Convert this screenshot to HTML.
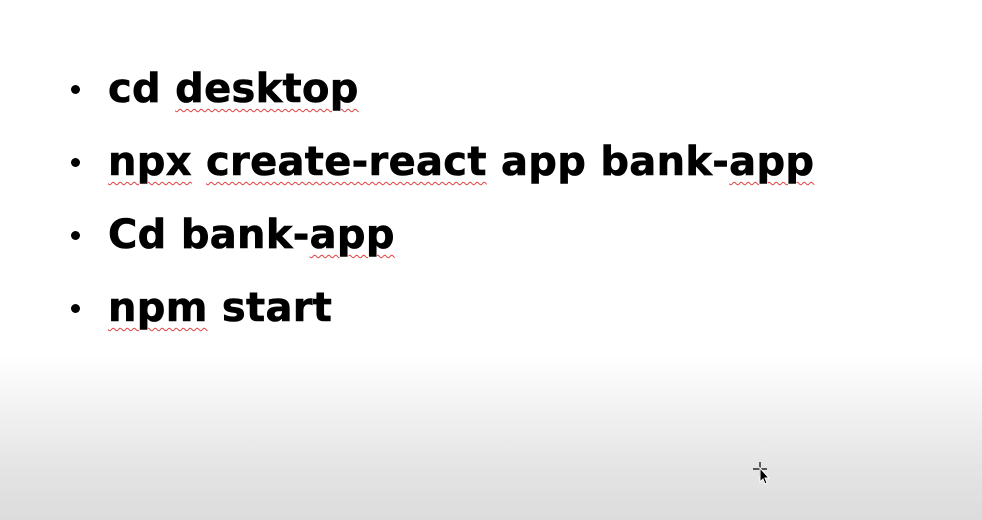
<!DOCTYPE html>
<html><head><meta charset="utf-8"><style>
html,body{margin:0;padding:0;}
body{width:982px;height:520px;overflow:hidden;position:relative;
background:linear-gradient(to bottom,#fff 0px,#fff 355px,#f3f3f3 405px,#e6e6e6 460px,#dcdcdc 520px);}
.l{position:absolute;left:108px;font-family:"DejaVu Sans","Liberation Sans",sans-serif;font-weight:bold;font-size:40px;line-height:40px;color:#000;white-space:nowrap;letter-spacing:0.3px;-webkit-text-stroke:0.6px #000}
.b{position:absolute;left:71px;width:9px;height:9px;border-radius:50%;background:#000}
.w{text-decoration:underline wavy #e04040;text-decoration-thickness:1px;text-underline-offset:6px}
</style></head><body>
<div class="b" style="top:85px"></div>
<div class="b" style="top:158px"></div>
<div class="b" style="top:231px"></div>
<div class="b" style="top:304px"></div>
<div class="l" style="top:69px">cd <span class="w">desktop</span></div>
<div class="l" style="top:142px"><span class="w">npx</span> <span class="w">create-react</span> app bank-<span class="w">app</span></div>
<div class="l" style="top:215px">Cd bank-<span class="w">app</span></div>
<div class="l" style="top:288px"><span class="w">npm</span> start</div>
<svg style="position:absolute;left:752px;top:461px" width="20" height="24" viewBox="0 0 20 24">
<path d="M8 1v14M1 8h14" stroke="#000" stroke-width="1.2"/>
<path d="M8 7 L8 21 L11 18 L13 23 L15 22 L13 17 L17 17 Z" fill="#000" stroke="#fff" stroke-width="1"/>
</svg>
</body></html>
